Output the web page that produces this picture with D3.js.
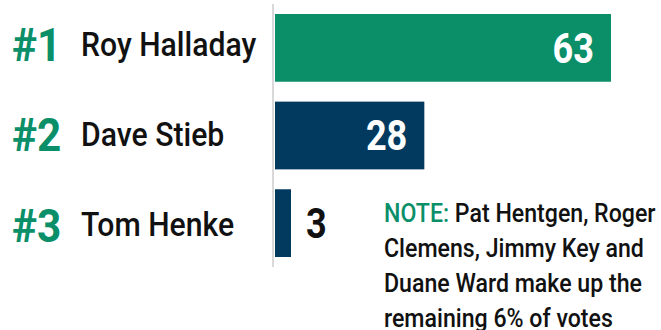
<!DOCTYPE html>
<html>
<head>
<meta charset="utf-8">
<script src="https://cdn.jsdelivr.net/npm/d3@7"></script>
<style>
  html, body { margin: 0; padding: 0; background: #ffffff; }
  svg { display: block; }
  text { font-family: Roboto, "DejaVu Sans Condensed", sans-serif; }
</style>
</head>
<body>
<svg id="chart" width="661" height="330"></svg>
<script>
// Vote share (%) for the top three finishers
const ranks = ["#1", "#2", "#3"];
const players = ["Roy Halladay", "Dave Stieb", "Tom Henke"];
const votes = [63, 28, 3];
const barColors = ["#0a8f69", "#013a5e", "#013a5e"];
const noteLead = "NOTE:";
const noteLines = [
  " Pat Hentgen, Roger",
  "Clemens, Jimmy Key and",
  "Duane Ward make up the",
  "remaining 6% of votes"
];

const green = "#0a8f69";
const ink = "#111111";
const CAP = 0.711; // cap-height ratio of the typeface

// condensed look: squeeze glyphs horizontally
const SQ_RANK = 0.9;
const SQ_VAL = 0.86;
const SQ_NAME = 0.92;
const SQ_NOTE = 0.89;

const svg = d3.select("#chart");

const x = d3.scaleLinear().domain([0, 63]).range([275, 611]);

// bar rows
const yBar = d3.scaleBand()
  .domain(players)
  .range([14, 257])
  .paddingInner(0.227)
  .paddingOuter(0);

// label rows (slightly wider spacing than the bars)
const yLab = d3.scaleBand()
  .domain(players)
  .range([-1, 270])
  .padding(0);

// baseline axis
svg.append("line")
  .attr("x1", 273).attr("x2", 273)
  .attr("y1", 4).attr("y2", 267)
  .attr("stroke", "#d9d9d9")
  .attr("stroke-width", 2);

const rows = players.map((p, i) => ({ rank: ranks[i], name: p, value: votes[i], color: barColors[i] }));

svg.selectAll("rect.bar")
  .data(rows)
  .join("rect")
  .attr("class", "bar")
  .attr("x", x(0))
  .attr("y", d => yBar(d.name))
  .attr("width", d => x(d.value) - x(0))
  .attr("height", yBar.bandwidth())
  .attr("fill", d => d.color);

const place = (px, py, sq) => `translate(${px},${py}) scale(${sq},1)`;

// value labels: inside the bar when it is wide enough, otherwise just past its end
const valSize = 42;
const inside = d => d.value > 10;
svg.selectAll("text.val")
  .data(rows)
  .join("text")
  .attr("class", "val")
  .attr("font-size", valSize)
  .attr("font-weight", 700)
  .attr("transform", d => place(
    inside(d) ? x(d.value) - 17 : x(d.value) + 15,
    yBar(d.name) + yBar.bandwidth() / 2 + valSize * CAP / 2,
    SQ_VAL))
  .attr("text-anchor", d => inside(d) ? "end" : "start")
  .attr("fill", d => inside(d) ? "#ffffff" : ink)
  .text(d => d.value);

// rank numbers
const rankSize = 47;
svg.selectAll("text.rank")
  .data(rows)
  .join("text")
  .attr("class", "rank")
  .attr("transform", d => place(12, yLab(d.name) + yLab.bandwidth() / 2 + rankSize * CAP / 2, SQ_RANK))
  .attr("font-size", rankSize)
  .attr("font-weight", 700)
  .attr("fill", green)
  .text(d => d.rank);

// player names
const nameSize = 32.8;
svg.selectAll("text.name")
  .data(rows)
  .join("text")
  .attr("class", "name")
  .attr("transform", d => place(81, yLab(d.name) + yLab.bandwidth() / 2 + nameSize * CAP / 2, SQ_NAME))
  .attr("font-size", nameSize)
  .attr("font-weight", 500)
  .attr("fill", ink)
  .text(d => d.name);

// footnote
const noteSize = 26;
const note = svg.append("text")
  .attr("transform", place(384, 221.5, SQ_NOTE))
  .attr("font-size", noteSize)
  .attr("font-weight", 500)
  .attr("fill", ink);

noteLines.forEach((line, i) => {
  const t = note.append("tspan")
    .attr("x", 0)
    .attr("y", i * 35.3);
  if (i === 0) {
    t.append("tspan").attr("fill", green).text(noteLead);
    t.append("tspan").text(line);
  } else {
    t.text(line);
  }
});
</script>
</body>
</html>
